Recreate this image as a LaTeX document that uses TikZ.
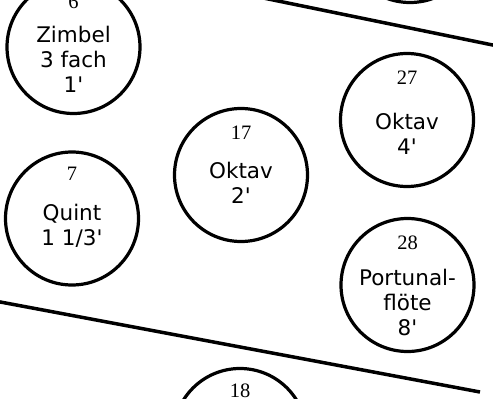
\documentclass[tikz,border=0pt]{standalone}
\usepackage{fontspec}
\setmainfont{DejaVu Sans}
\newfontfamily\numfont{Liberation Serif}
\newcommand{\ft}{\textquotesingle}
\begin{document}
\begin{tikzpicture}[x=1pt,y=-1pt,
  stopc/.style={circle,draw,line width=3.2pt,minimum size=133pt,inner sep=0pt},
  num/.style={font=\numfont\fontsize{20.5}{22}\selectfont,inner sep=0pt,anchor=base},
  lbl/.style={font=\fontsize{21.5}{25}\selectfont,align=center,inner sep=0pt,anchor=base},
  wall/.style={line width=3.5pt}]
\useasboundingbox (0,0) rectangle (493,399);
% dividing walls
\coordinate (w1a) at (262,-2.3);
\coordinate (w1b) at (500,46.5);
\coordinate (w2a) at (-5,301);
\coordinate (w2b) at (480,392);
\draw[wall] (w1a) -- (w1b);
\draw[wall] (w2a) -- (w2b);
% circles
\node[stopc] (top) at (410,-64) {};
\node[stopc] (zim) at (73.5,47) {};
\node[stopc] (ok17) at (241,175) {};
\node[stopc] (ok27) at (407,120) {};
\node[stopc] (qui) at (72,218.5) {};
\node[stopc] (por) at (407.5,285) {};
\node[stopc] (b18) at (240,435) {};
% numbers
\node[num] (zimn) at (73.5,8) {6};
\node[num] (ok17n) at (241,139) {17};
\node[num] (ok27n) at (407,84) {27};
\node[num] (quin) at (72,180) {7};
\node[num] (porn) at (407.5,249) {28};
\node[num] (b18n) at (240,397) {18};
% labels (base = baseline of last line)
\node[lbl] (ziml) at (73.5,92) {Zimbel\\3 fach\\1\ft};
\node[lbl] (ok17l) at (241,203) {Oktav\\2\ft};
\node[lbl] (ok27l) at (407,154) {Oktav\\4\ft};
\node[lbl] (quil) at (72,245) {Quint\\1 1/3\ft};
\node[lbl] (porl) at (407.5,335) {Portunal-\\flöte\\8\ft};
\end{tikzpicture}
\end{document}
